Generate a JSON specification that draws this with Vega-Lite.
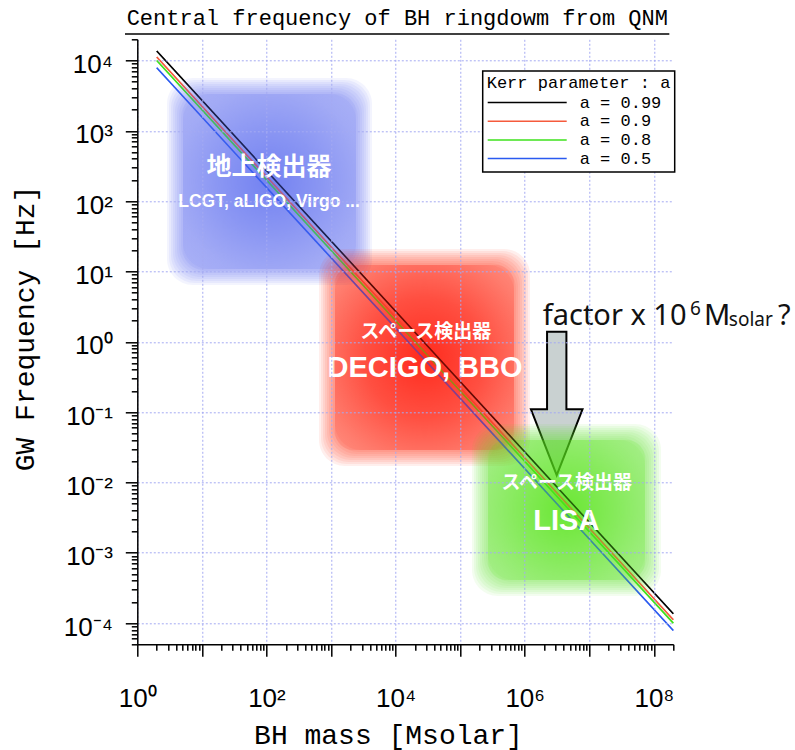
{
  "$schema": "https://vega.github.io/schema/vega-lite/v6.json",
  "autosize": {"type": "none"},
  "padding": {"left": 137.3, "top": 39.3, "right": 121.7, "bottom": 105.7},
  "width": 536,
  "height": 605,
  "background": "white",
  "config": {"view": {"stroke": null}, "font": "Liberation Sans"},
  "title": {
    "text": "Central frequency of BH ringdowm from QNM",
    "font": "Liberation Mono", "fontSize": 22, "fontWeight": "normal", "color": "black",
    "anchor": "middle", "frame": "group", "baseline": "alphabetic", "offset": 7.3, "dx": -8, "dy": 23.5
  },
  "encoding": {
    "x": {
      "field": "mass", "type": "quantitative",
      "scale": {"type": "log", "domain": [1, 200000000], "nice": false},
      "axis": {
        "values": [1,2,3,4,5,6,7,8,9,10,20,30,40,50,60,70,80,90,100,200,300,400,500,600,700,800,900,1000,2000,3000,4000,5000,6000,7000,8000,9000,10000,20000,30000,40000,50000,60000,70000,80000,90000,100000,200000,300000,400000,500000,600000,700000,800000,900000,1000000,2000000,3000000,4000000,5000000,6000000,7000000,8000000,9000000,10000000,20000000,30000000,40000000,50000000,60000000,70000000,80000000,90000000,100000000,200000000],
        "title": "BH mass [Msolar]",
        "titleFont": "Liberation Mono", "titleFontSize": 28, "titleFontWeight": "normal", "titleColor": "black",
        "titleX": 250.7, "titleY": 98.7, "titleBaseline": "alphabetic", "titleAlign": "center",
        "labelExpr": "abs(log(datum.value)/LN10 - round(log(datum.value)/LN10)) > 0.001 ? '' : ['10⁰','','10²','','10⁴','','10⁶','','10⁸'][round(log(datum.value)/LN10)]",
        "labelFont": "Liberation Sans", "labelFontSize": 26, "labelColor": "black",
        "labelBaseline": "alphabetic", "labelPadding": 50, "labelOverlap": false, "labelFlush": false, "labelBound": false,
        "domainColor": "black", "domainWidth": 1.5,
        "tickColor": "black", "tickWidth": 1.5,
        "tickSize": {"condition": {"test": "abs(log(datum.value)/LN10 - round(log(datum.value)/LN10)) < 0.001", "value": 12}, "value": 6},
        "grid": true, "gridColor": "#a4aaf2", "gridDash": [2, 2], "gridWidth": 1,
        "gridOpacity": {"condition": {"test": "abs(log(datum.value)/LN10 - round(log(datum.value)/LN10)) < 0.001", "value": 1}, "value": 0},
        "zindex": 1
      }
    },
    "y": {
      "field": "freq", "type": "quantitative",
      "scale": {"type": "log", "domain": [0.00005, 20000], "nice": false},
      "axis": {
        "values": [5e-5,6e-5,7e-5,8e-5,9e-5,1e-4,2e-4,3e-4,4e-4,5e-4,6e-4,7e-4,8e-4,9e-4,0.001,0.002,0.003,0.004,0.005,0.006,0.007,0.008,0.009,0.01,0.02,0.03,0.04,0.05,0.06,0.07,0.08,0.09,0.1,0.2,0.3,0.4,0.5,0.6,0.7,0.8,0.9,1,2,3,4,5,6,7,8,9,10,20,30,40,50,60,70,80,90,100,200,300,400,500,600,700,800,900,1000,2000,3000,4000,5000,6000,7000,8000,9000,10000,20000],
        "title": "GW Frequency [Hz]",
        "titleFont": "Liberation Mono", "titleFontSize": 28, "titleFontWeight": "normal", "titleColor": "black",
        "titleX": -104, "titleY": 288.7, "titleBaseline": "alphabetic", "titleAlign": "center", "titleAngle": 270,
        "labelExpr": "abs(log(datum.value)/LN10 - round(log(datum.value)/LN10)) > 0.001 ? '' : ['10⁻⁴','10⁻³','10⁻²','10⁻¹','10⁰','10¹','10²','10³','10⁴'][round(log(datum.value)/LN10) + 4]",
        "labelFont": "Liberation Sans", "labelFontSize": 26, "labelColor": "black",
        "labelBaseline": "alphabetic", "labelOffset": 12, "labelPadding": 13, "labelOverlap": false, "labelFlush": false, "labelBound": false,
        "domainColor": "black", "domainWidth": 1.5,
        "tickColor": "black", "tickWidth": 1.5,
        "tickSize": {"condition": {"test": "abs(log(datum.value)/LN10 - round(log(datum.value)/LN10)) < 0.001", "value": 12}, "value": 6},
        "grid": true, "gridColor": "#a4aaf2", "gridDash": [2, 2], "gridWidth": 1,
        "gridOpacity": {"condition": {"test": "abs(log(datum.value)/LN10 - round(log(datum.value)/LN10)) < 0.001", "value": 1}, "value": 0},
        "zindex": 1
      }
    }
  },
  "layer": [
    {
      "data": {"values": [
        {"a": 0.99, "mass": 2, "freq": 13600}, {"a": 0.99, "mass": 200000000, "freq": 0.000136},
        {"a": 0.9, "mass": 2, "freq": 11200}, {"a": 0.9, "mass": 200000000, "freq": 0.000112},
        {"a": 0.8, "mass": 2, "freq": 10000}, {"a": 0.8, "mass": 200000000, "freq": 0.0001},
        {"a": 0.5, "mass": 2, "freq": 7850}, {"a": 0.5, "mass": 200000000, "freq": 0.0000785}
      ]},
      "mark": {"type": "line", "strokeWidth": 1.5},
      "encoding": {
        "stroke": {
          "field": "a", "type": "nominal",
          "scale": {"domain": [0.99, 0.9, 0.8, 0.5], "range": ["#000000", "#f55a3c", "#3ee21c", "#2a5af0"]},
          "legend": {
            "orient": "none", "legendX": 345.4, "legendY": 31.7, "zindex": 2,
            "title": "Kerr parameter : a", "titleLimit": 400,
            "titleFont": "Liberation Mono", "titleFontSize": 17, "titleFontWeight": "normal", "titleColor": "black", "titlePadding": 2,
            "labelFont": "Liberation Mono", "labelFontSize": 17, "labelColor": "black", "labelOffset": 12,
            "labelExpr": "'a = ' + datum.label",
            "symbolType": "stroke", "symbolSize": 6241, "symbolStrokeWidth": 1.5, "symbolOpacity": 1,
            "clipHeight": 17, "rowPadding": 0.7,
            "strokeColor": "black", "fillColor": "white", "padding": 4,
            "encode": {"legend": {"update": {"strokeWidth": {"value": 1.5}}}}
          }
        }
      }
    },
    {
      "data": {"values": [{"mass": 3131000, "freq": 0.1327}]},
      "mark": {
        "type": "point",
        "shape": "M-0.135,-1L0.135,-1L0.135,0.081L0.36,0.081L0,1L-0.36,0.081L-0.135,0.081Z",
        "size": 20535, "filled": true, "fill": "#c9d1d1", "stroke": "#000000", "strokeWidth": 2,
        "opacity": 1, "fillOpacity": 1, "strokeOpacity": 1
      }
    },
    {
      "data": {"values": [
        {"blob": "ground", "ring": 0, "mass": 2.884, "mass2": 4315, "freq": 5634, "freq2": 6.422},
        {"blob": "ground", "ring": 1, "mass": 3.097, "mass2": 4018, "freq": 5277, "freq2": 6.856},
        {"blob": "ground", "ring": 2, "mass": 3.326, "mass2": 3741, "freq": 4943, "freq2": 7.320},
        {"blob": "ground", "ring": 3, "mass": 3.572, "mass2": 3484, "freq": 4630, "freq2": 7.815},
        {"blob": "ground", "ring": 4, "mass": 3.836, "mass2": 3244, "freq": 4337, "freq2": 8.343},
        {"blob": "ground", "ring": 5, "mass": 4.120, "mass2": 3021, "freq": 4061, "freq2": 8.909},
        {"blob": "ground", "ring": 6, "mass": 4.424, "mass2": 2813, "freq": 3803, "freq2": 9.513},
        {"blob": "ground", "ring": 7, "mass": 4.751, "mass2": 2619, "freq": 3563, "freq2": 10.156},
        {"blob": "ground", "ring": 8, "mass": 5.103, "mass2": 2439, "freq": 3337, "freq2": 10.843},
        {"blob": "space", "ring": 0, "mass": 652.0, "mass2": 1208000, "freq": 20.86, "freq2": 0.01714},
        {"blob": "space", "ring": 1, "mass": 700.2, "mass2": 1124850, "freq": 19.539, "freq2": 0.018299},
        {"blob": "space", "ring": 2, "mass": 751.9, "mass2": 1047430, "freq": 18.301, "freq2": 0.019536},
        {"blob": "space", "ring": 3, "mass": 807.5, "mass2": 975330, "freq": 17.143, "freq2": 0.020857},
        {"blob": "space", "ring": 4, "mass": 867.2, "mass2": 908200, "freq": 16.057, "freq2": 0.022267},
        {"blob": "space", "ring": 5, "mass": 931.4, "mass2": 845670, "freq": 15.037, "freq2": 0.023777},
        {"blob": "space", "ring": 6, "mass": 1000.2, "mass2": 787430, "freq": 14.082, "freq2": 0.025389},
        {"blob": "space", "ring": 7, "mass": 1074.2, "mass2": 733230, "freq": 13.191, "freq2": 0.027105},
        {"blob": "space", "ring": 8, "mass": 1153.6, "mass2": 682750, "freq": 12.355, "freq2": 0.028939},
        {"blob": "lisa", "ring": 0, "mass": 152700, "mass2": 129100000, "freq": 0.06782, "freq2": 0.0002431},
        {"blob": "lisa", "ring": 1, "mass": 163990, "mass2": 120214000, "freq": 0.063525, "freq2": 0.00025954},
        {"blob": "lisa", "ring": 2, "mass": 176110, "mass2": 111939000, "freq": 0.059502, "freq2": 0.00027709},
        {"blob": "lisa", "ring": 3, "mass": 189130, "mass2": 104235000, "freq": 0.055734, "freq2": 0.00029582},
        {"blob": "lisa", "ring": 4, "mass": 203110, "mass2": 97060000, "freq": 0.052203, "freq2": 0.00031582},
        {"blob": "lisa", "ring": 5, "mass": 218130, "mass2": 90377000, "freq": 0.048889, "freq2": 0.00033723},
        {"blob": "lisa", "ring": 6, "mass": 234260, "mass2": 84154000, "freq": 0.045784, "freq2": 0.00036010},
        {"blob": "lisa", "ring": 7, "mass": 251570, "mass2": 78361000, "freq": 0.042886, "freq2": 0.00038444},
        {"blob": "lisa", "ring": 8, "mass": 270170, "mass2": 72966000, "freq": 0.040168, "freq2": 0.00041045}
      ]},
      "mark": {"type": "rect", "cornerRadius": 26, "strokeWidth": 0},
      "encoding": {
        "x2": {"field": "mass2"},
        "y2": {"field": "freq2"},
        "fill": {"field": "blob", "type": "nominal", "scale": {"domain": ["ground", "space", "lisa"], "range": ["#5a70f0", "#ff2814", "#62e424"]}, "legend": null},
        "opacity": {"field": "ring", "type": "ordinal", "scale": {"domain": [0, 1, 2, 3, 4, 5, 6, 7, 8], "range": [0.075, 0.075, 0.075, 0.08, 0.08, 0.08, 0.085, 0.085, 0.085]}, "legend": null}
      }
    },
    {
      "data": {"values": [{"mass": 5.103, "mass2": 2439, "freq": 3337, "freq2": 10.843}]},
      "mark": {"type": "rect", "cornerRadius": 18, "strokeWidth": 0,
        "fill": {"gradient": "radial", "x1": 0.5, "y1": 0.5, "r1": 0, "x2": 0.5, "y2": 0.5, "r2": 0.72,
          "stops": [{"offset": 0, "color": "rgba(80,100,238,0.62)"}, {"offset": 0.4, "color": "rgba(80,100,238,0.36)"}, {"offset": 0.75, "color": "rgba(80,100,238,0.1)"}, {"offset": 1, "color": "rgba(80,100,238,0)"}]}},
      "encoding": {"x2": {"field": "mass2"}, "y2": {"field": "freq2"}}
    },
    {
      "data": {"values": [{"mass": 1153.6, "mass2": 682750, "freq": 12.355, "freq2": 0.028939}]},
      "mark": {"type": "rect", "cornerRadius": 18, "strokeWidth": 0,
        "fill": {"gradient": "radial", "x1": 0.5, "y1": 0.5, "r1": 0, "x2": 0.5, "y2": 0.5, "r2": 0.72,
          "stops": [{"offset": 0, "color": "rgba(255,25,12,0.85)"}, {"offset": 0.45, "color": "rgba(255,25,12,0.55)"}, {"offset": 0.8, "color": "rgba(255,25,12,0.18)"}, {"offset": 1, "color": "rgba(255,25,12,0)"}]}},
      "encoding": {"x2": {"field": "mass2"}, "y2": {"field": "freq2"}}
    },
    {
      "data": {"values": [{"mass": 270170, "mass2": 72966000, "freq": 0.040168, "freq2": 0.00041045}]},
      "mark": {"type": "rect", "cornerRadius": 18, "strokeWidth": 0,
        "fill": {"gradient": "radial", "x1": 0.5, "y1": 0.5, "r1": 0, "x2": 0.5, "y2": 0.5, "r2": 0.72,
          "stops": [{"offset": 0, "color": "rgba(85,228,20,0.75)"}, {"offset": 0.45, "color": "rgba(85,228,20,0.42)"}, {"offset": 0.8, "color": "rgba(85,228,20,0.14)"}, {"offset": 1, "color": "rgba(85,228,20,0)"}]}},
      "encoding": {"x2": {"field": "mass2"}, "y2": {"field": "freq2"}}
    },
    {
      "data": {"values": [
        {"a": 0.99, "mass": 2, "freq": 13600}, {"a": 0.99, "mass": 200000000, "freq": 0.000136},
        {"a": 0.9, "mass": 2, "freq": 11200}, {"a": 0.9, "mass": 200000000, "freq": 0.000112},
        {"a": 0.8, "mass": 2, "freq": 10000}, {"a": 0.8, "mass": 200000000, "freq": 0.0001},
        {"a": 0.5, "mass": 2, "freq": 7850}, {"a": 0.5, "mass": 200000000, "freq": 0.0000785}
      ]},
      "mark": {"type": "line", "strokeWidth": 1.5, "opacity": 0.5},
      "encoding": {
        "stroke": {
          "field": "a", "type": "nominal",
          "scale": {"domain": [0.99, 0.9, 0.8, 0.5], "range": ["#000000", "#f55a3c", "#3ee21c", "#2a5af0"]},
          "legend": {
            "orient": "none", "legendX": 345.4, "legendY": 31.7, "zindex": 2,
            "title": "Kerr parameter : a", "titleLimit": 400,
            "titleFont": "Liberation Mono", "titleFontSize": 17, "titleFontWeight": "normal", "titleColor": "black", "titlePadding": 2,
            "labelFont": "Liberation Mono", "labelFontSize": 17, "labelColor": "black", "labelOffset": 12,
            "labelExpr": "'a = ' + datum.label",
            "symbolType": "stroke", "symbolSize": 6241, "symbolStrokeWidth": 1.5, "symbolOpacity": 1,
            "clipHeight": 17, "rowPadding": 0.7,
            "strokeColor": "black", "fillColor": "white", "padding": 4,
            "encode": {"legend": {"update": {"strokeWidth": {"value": 1.5}}}}
          }
        }
      }
    },
    {
      "data": {"values": [{"mass": 0.645, "mass2": 173600000, "freq": 23780}]},
      "mark": {"type": "rule", "color": "black", "strokeWidth": 1.5},
      "encoding": {"x2": {"field": "mass2"}}
    },
    {
      "data": {"values": [{"mass": 109.6, "freq": 300.8, "label": "地上検出器"}]},
      "mark": {"type": "text", "font": "Noto Sans CJK JP", "fontSize": 25, "fontWeight": "bold", "color": "white", "align": "center", "baseline": "middle"},
      "encoding": {"text": {"field": "label"}}
    },
    {
      "data": {"values": [
        {"mass": 29400, "freq": 1.356, "label": "スペース検出器"},
        {"mass": 4474000, "freq": 0.009826, "label": "スペース検出器"}
      ]},
      "mark": {"type": "text", "font": "Noto Sans CJK JP", "fontSize": 19, "fontWeight": "bold", "color": "white", "align": "center", "baseline": "middle"},
      "encoding": {"text": {"field": "label"}}
    },
    {
      "data": {"values": [{"mass": 109.6, "freq": 81.2, "label": "LCGT, aLIGO, Virgo ..."}]},
      "mark": {"type": "text", "font": "Liberation Sans", "fontSize": 17.5, "fontWeight": "bold", "color": "white", "align": "center", "baseline": "alphabetic"},
      "encoding": {"text": {"field": "label"}}
    },
    {
      "data": {"values": [
        {"mass": 28570, "freq": 0.3191, "label": "DECIGO, BBO"},
        {"mass": 4410000, "freq": 0.00211, "label": "LISA"}
      ]},
      "mark": {"type": "text", "font": "Liberation Sans", "fontSize": 29, "fontWeight": "bold", "color": "white", "align": "center", "baseline": "alphabetic"},
      "encoding": {"text": {"field": "label"}}
    },
    {
      "data": {"values": [
        {"mass": 1900000, "freq": 1.733, "label": "factor x 10"},
        {"mass": 600000000, "freq": 1.733, "label": "M"},
        {"mass": 8380000000, "freq": 1.733, "label": "?"}
      ]},
      "mark": {"type": "text", "font": "Noto Sans", "fontSize": 29, "fontWeight": "normal", "color": "#111111", "align": "left", "baseline": "alphabetic"},
      "encoding": {"text": {"field": "label"}}
    },
    {
      "data": {"values": [
        {"mass": 363300000, "freq": 2.404, "label": "6"},
        {"mass": 1450000000, "freq": 1.677, "label": "solar"}
      ]},
      "mark": {"type": "text", "font": "Noto Sans", "fontSize": 19, "fontWeight": "normal", "color": "#111111", "align": "left", "baseline": "alphabetic"},
      "encoding": {"text": {"field": "label"}}
    }
  ]
}
